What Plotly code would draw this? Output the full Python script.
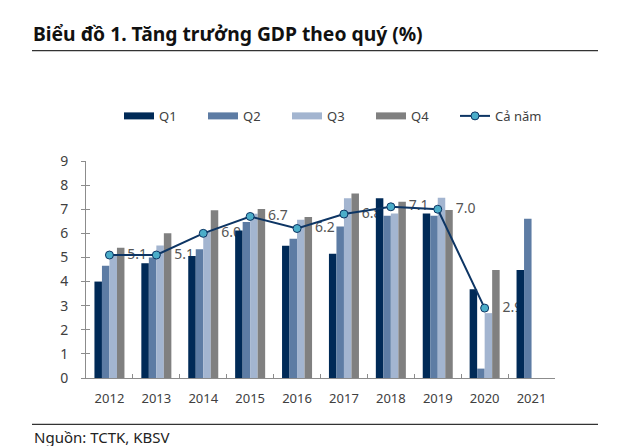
import plotly.graph_objects as go

years = ["2012", "2013", "2014", "2015", "2016", "2017", "2018", "2019", "2020", "2021"]
q1 = [4.0, 4.76, 5.06, 6.12, 5.48, 5.15, 7.45, 6.82, 3.68, 4.48]
q2 = [4.66, 5.0, 5.34, 6.47, 5.78, 6.28, 6.73, 6.73, 0.39, 6.61]
q3 = [5.1, 5.5, 6.07, 6.81, 6.56, 7.46, 6.82, 7.48, 2.69, None]
q4 = [5.4, 6.0, 6.96, 7.01, 6.68, 7.65, 7.31, 6.97, 4.48, None]
annual = [5.1, 5.1, 6.0, 6.7, 6.2, 6.8, 7.1, 7.0, 2.9, None]
annual_labels = ["5.1", "5.1", "6.0", "6.7", "6.2", "6.8", "7.1", "7.0", "2.9", ""]

quarter_names = ["Q1", "Q2", "Q3", "Q4"]
quarter_values = [q1, q2, q3, q4]
quarter_colors = ["#002a57", "#5d7ca4", "#a3b5d0", "#808080"]
line_color = "#0d3564"
marker_color = "#4badc9"
FONT = "Noto Sans"
TXT = "#404040"

# page body has an 8px default margin; figure is sized to fit the window
W, H = 616, 438
PL, PR, PT, PB = 78, 69, 153, 68.3
PH = H - PT - PB
PW = W - PL - PR


def px_y(y):
    """page pixel y (reference) -> paper fraction"""
    return (H - PB - (y - 8)) / PH


def px_x(x):
    return (x - 8 - PL) / PW


fig = go.Figure()

# value labels for the annual line, drawn beneath the bars (main axes)
fig.add_trace(go.Scatter(
    x=years, y=annual, mode="markers+text", text=annual_labels,
    textposition="middle right",
    textfont=dict(family=FONT, size=14, color="#555555"),
    marker=dict(size=27, color="rgba(0,0,0,0)"),
    showlegend=False, hoverinfo="skip", xaxis="x", yaxis="y",
))

for name, vals, col in zip(quarter_names, quarter_values, quarter_colors):
    fig.add_trace(go.Bar(
        x=years, y=vals, name=name, marker=dict(color=col, line=dict(width=0)),
        showlegend=False, legendgroup=name, xaxis="x2", yaxis="y2",
    ))
    # legend swatch
    fig.add_trace(go.Scatter(
        x=[None], y=[None], mode="lines", name=name, legendgroup=name,
        line=dict(color=col, width=7), xaxis="x2", yaxis="y2",
    ))

fig.add_trace(go.Scatter(
    x=years, y=annual, mode="lines+markers", name="Cả năm",
    line=dict(color=line_color, width=2),
    marker=dict(size=8, color=marker_color, line=dict(color=line_color, width=1)),
    xaxis="x2", yaxis="y2", legend="legend2",
))

axis_font = dict(family=FONT, size=13, color=TXT)
legend_font = dict(family=FONT, size=13, color=TXT)

fig.update_layout(
    width=W, height=H,
    margin=dict(l=PL, r=PR, t=PT, b=PB, autoexpand=False),
    paper_bgcolor="white", plot_bgcolor="white",
    font=dict(family=FONT, color=TXT),
    barmode="group", bargap=0.36, bargroupgap=0,
    title=dict(
        text="<b>Biểu đồ 1. Tăng trưởng GDP theo quý (%)</b>",
        font=dict(family=FONT, size=19.3, color="#111111"),
        x=(33 - 8) / W, xanchor="left", xref="container",
        y=1 - (34 - 8) / H, yanchor="middle", yref="container",
    ),
    xaxis=dict(
        type="category", categoryorder="array", categoryarray=years,
        range=[-0.5, 9.5], showline=True, linecolor="#8c8c8c", linewidth=1,
        ticks="inside", tickson="boundaries", ticklen=4, tickcolor="#8c8c8c",
        showgrid=False, zeroline=False, tickfont=axis_font, ticklabelstandoff=8,
    ),
    yaxis=dict(
        range=[0, 9], dtick=1, showline=True, linecolor="#8c8c8c", linewidth=1,
        ticks="outside", ticklen=4, tickcolor="#8c8c8c", showgrid=False,
        zeroline=False, tickfont=dict(family=FONT, size=14, color=TXT),
        ticklabelstandoff=10,
    ),
    xaxis2=dict(
        type="category", categoryorder="array", categoryarray=years,
        range=[-0.5, 9.5], overlaying="x", visible=False,
    ),
    yaxis2=dict(
        range=[0, 9], dtick=1, overlaying="y", side="left", showline=False,
        ticks="inside", ticklen=4, tickcolor="#8c8c8c", showticklabels=False,
        showgrid=False, zeroline=False,
    ),
    legend=dict(
        orientation="h", x=px_x(119), xanchor="left",
        y=px_y(116), yanchor="middle", font=legend_font,
        entrywidth=39, entrywidthmode="pixels", itemwidth=30,
        bgcolor="rgba(0,0,0,0)",
    ),
    legend2=dict(
        orientation="h", x=px_x(455), xanchor="left",
        y=px_y(116), yanchor="middle", font=legend_font,
        itemwidth=30, bgcolor="rgba(0,0,0,0)",
    ),
    shapes=[
        dict(type="line", xref="paper", yref="paper",
             x0=px_x(32), x1=px_x(598), y0=px_y(50.7), y1=px_y(50.7),
             line=dict(color="#333333", width=1.3)),
        dict(type="line", xref="paper", yref="paper",
             x0=px_x(32), x1=px_x(598), y0=px_y(424), y1=px_y(424),
             line=dict(color="#333333", width=1.3)),
    ],
    annotations=[
        dict(text="Nguồn: TCTK, KBSV", xref="paper", yref="paper",
             x=px_x(32), y=px_y(437),
             xanchor="left", yanchor="middle", showarrow=False,
             font=dict(family=FONT, size=15, color="#222222")),
    ],
)

fig.write_html("out.html")
